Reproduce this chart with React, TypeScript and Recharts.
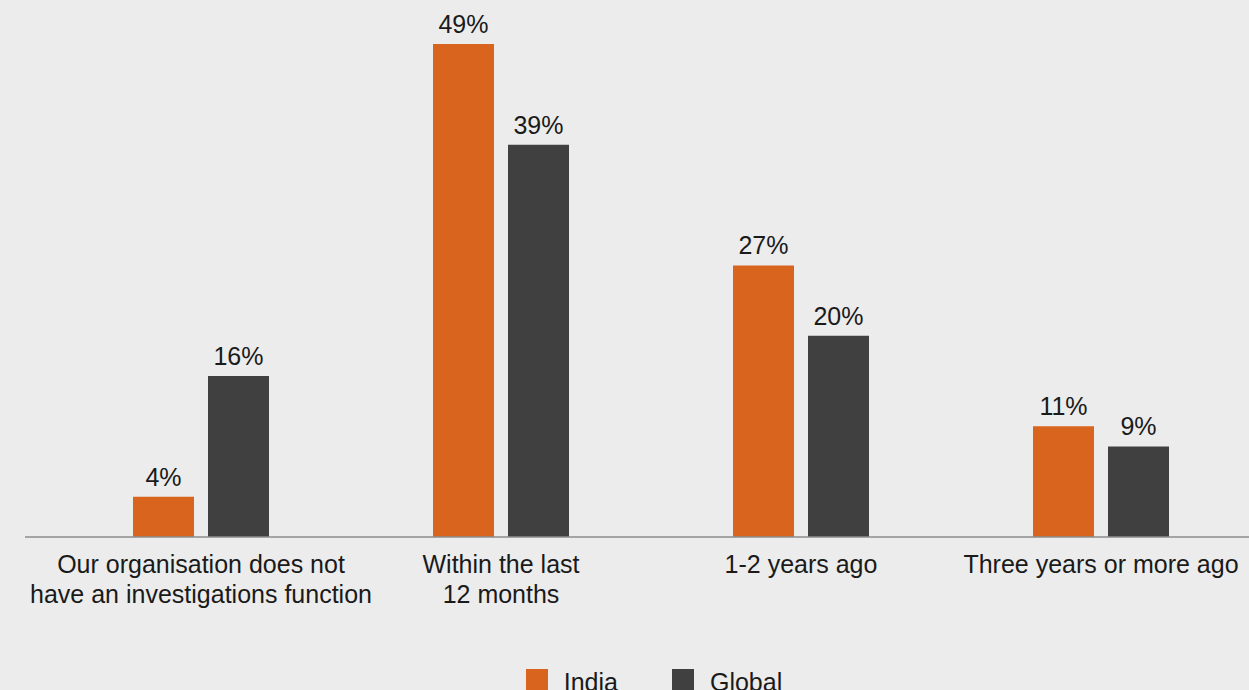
import { BarChart, Bar, XAxis, YAxis, LabelList } from "recharts"

const categories = [
  "Our organisation does not\nhave an investigations function",
  "Within the last\n12 months",
  "1-2 years ago",
  "Three years or more ago"
]
const india = [4, 49, 27, 11]
const global = [16, 39, 20, 9]
const seriesNames = ["India", "Global"]

const ORANGE = "#d9641e"
const DARK = "#404041"
const COLORS = [ORANGE, DARK]
const FONT = "'Liberation Sans', Arial, Helvetica, sans-serif"

const data = categories.map((name, i) => ({ name, India: india[i], Global: global[i] }))

function CategoryTick(props: any) {
  const { x, y, payload } = props
  const lines = String(payload.value).split("\n")
  return (
    <text x={x} y={y} textAnchor="middle" fill="#1a1a1a" fontSize={25} fontFamily={FONT}>
      {lines.map((line, i) => (
        <tspan key={i} x={x} dy={i === 0 ? 36 : 30}>
          {line}
        </tspan>
      ))}
    </text>
  )
}

export default function App() {
  return (
    <div style={{ position: "fixed", top: 0, left: 0, width: 1249, height: 690, overflow: "hidden", background: "#ececec" }}>
      <BarChart
        width={1260}
        height={690}
        data={data}
        margin={{ top: 34, right: 9, bottom: 123, left: 25 }}
        barSize={61}
        barGap={14}
      >
        <XAxis
          dataKey="name"
          padding={{ left: 26, right: 0 }}
          tickLine={false}
          tickSize={0}
          tickMargin={0}
          interval={0}
          axisLine={{ stroke: "#8c8c8c", strokeWidth: 1.5 }}
          tick={<CategoryTick />}
        />
        <YAxis hide domain={[0, 50]} />
        <Bar dataKey="India" fill={ORANGE} isAnimationActive={false}>
          <LabelList dataKey="India" position="top" offset={11} formatter={(v: any) => `${v}%`} fill="#1a1a1a" fontSize={25} fontFamily={FONT} />
        </Bar>
        <Bar dataKey="Global" fill={DARK} isAnimationActive={false}>
          <LabelList dataKey="Global" position="top" offset={11} formatter={(v: any) => `${v}%`} fill="#1a1a1a" fontSize={25} fontFamily={FONT} />
        </Bar>
      </BarChart>
      {/* legend, centred on the plot area */}
      <div
        style={{
          position: "absolute", top: 669, left: 54, width: 1200,
          display: "flex", justifyContent: "center",
          fontFamily: FONT, fontSize: 25, lineHeight: "25px", color: "#1a1a1a"
        }}
      >
        {seriesNames.map((name, i) => (
          <div key={name} style={{ display: "flex", alignItems: "flex-start", marginLeft: i === 0 ? 0 : 54 }}>
            <span style={{ width: 22, height: 22, background: COLORS[i], marginRight: 16, display: "inline-block" }} />
            <span style={{ marginTop: 1 }}>{name}</span>
          </div>
        ))}
      </div>
    </div>
  )
}
